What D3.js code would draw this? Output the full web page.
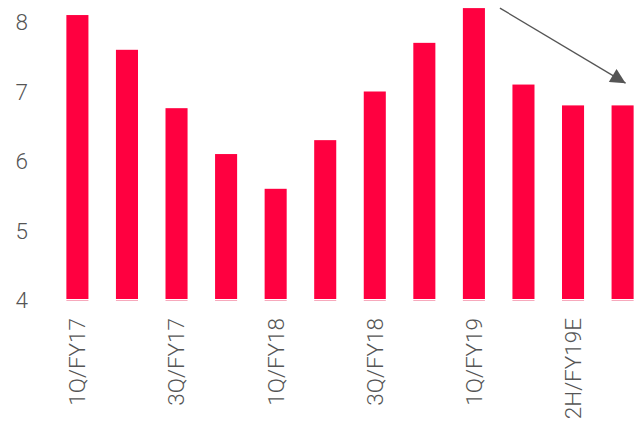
<!DOCTYPE html>
<html><head><meta charset="utf-8">
<script src="https://cdn.jsdelivr.net/npm/d3@7"></script>
<style>body{margin:0;background:#fff}svg{display:block}</style>
</head><body>
<script>
const categories = ["1Q/FY17","2Q/FY17","3Q/FY17","4Q/FY17","1Q/FY18","2Q/FY18","3Q/FY18","4Q/FY18","1Q/FY19","2Q/FY19","2H/FY19E","1H/FY20E"];
const values = [8.1, 7.6, 6.76, 6.1, 5.6, 6.3, 7.0, 7.7, 8.2, 7.1, 6.8, 6.8];
const shownLabels = ["1Q/FY17","3Q/FY17","1Q/FY18","3Q/FY18","1Q/FY19","2H/FY19E"];
const yTicks = [4,5,6,7,8];

const W = 641, H = 424;
const svg = d3.select("body").append("svg").attr("width", W).attr("height", H);

const x = d3.scaleBand().domain(categories).range([52.5, 647.5]).paddingInner(0.555).paddingOuter(0.28);
const y = d3.scaleLinear().domain([4, 8]).range([300, 22]);

const font = "Roboto, 'Liberation Sans', Arial, sans-serif";

// bars
svg.append("g").selectAll("rect").data(values).join("rect")
  .attr("x", (d,i) => x(categories[i]))
  .attr("y", d => y(d))
  .attr("width", x.bandwidth())
  .attr("height", d => y(4) - y(d) - 1)
  .attr("fill", "#ff0040");

// thin base lines under bars
svg.append("g").selectAll("line").data(values).join("line")
  .attr("x1", (d,i) => x(categories[i]))
  .attr("x2", (d,i) => x(categories[i]) + x.bandwidth())
  .attr("y1", y(4) + 0.5).attr("y2", y(4) + 0.5)
  .attr("stroke", "#f7a9bc").attr("stroke-width", 1);

// y axis
const yAxis = d3.axisLeft(y).tickValues(yTicks).tickSize(0).tickPadding(0).tickFormat(d3.format("d"));
const gy = svg.append("g").attr("transform", "translate(28,0)").call(yAxis);
gy.select(".domain").remove();
gy.selectAll("text").attr("font-family", font).attr("font-weight", 300)
  .attr("font-size", 22.5).attr("fill", "#555").attr("dy", "0.35em");

// x axis
const xAxis = d3.axisBottom(x).tickSize(0).tickPadding(0)
  .tickFormat(d => shownLabels.includes(d) ? d : "");
const gx = svg.append("g").attr("transform", `translate(0,${y(4)})`).call(xAxis);
gx.select(".domain").remove();
gx.selectAll("text").attr("font-family", font).attr("font-weight", 300)
  .attr("font-size", 22.5).attr("fill", "#555")
  .attr("text-anchor", "end")
  .attr("transform", "translate(0,18) rotate(-90)")
  .attr("dx", 0).attr("dy", "0.35em").attr("x", 0).attr("y", 0);

// arrow
const defs = svg.append("defs");
defs.append("marker").attr("id", "arr").attr("viewBox", "0 0 10 10")
  .attr("refX", 10).attr("refY", 5).attr("markerWidth", 16).attr("markerHeight", 15)
  .attr("markerUnits", "userSpaceOnUse").attr("orient", "auto")
  .append("path").attr("d", "M0,0 L10,5 L0,10 z").attr("fill", "#555");
const arrowFrom = {i: 8, v: 8.2}, arrowTo = {i: 11, v: 7.12};
svg.append("line")
  .attr("x1", x(categories[arrowFrom.i]) + x.bandwidth() + 15)
  .attr("y1", y(arrowFrom.v))
  .attr("x2", x(categories[arrowTo.i]) + 14)
  .attr("y2", y(arrowTo.v))
  .attr("stroke", "#555").attr("stroke-width", 1.3)
  .attr("marker-end", "url(#arr)");
</script>
</body></html>
